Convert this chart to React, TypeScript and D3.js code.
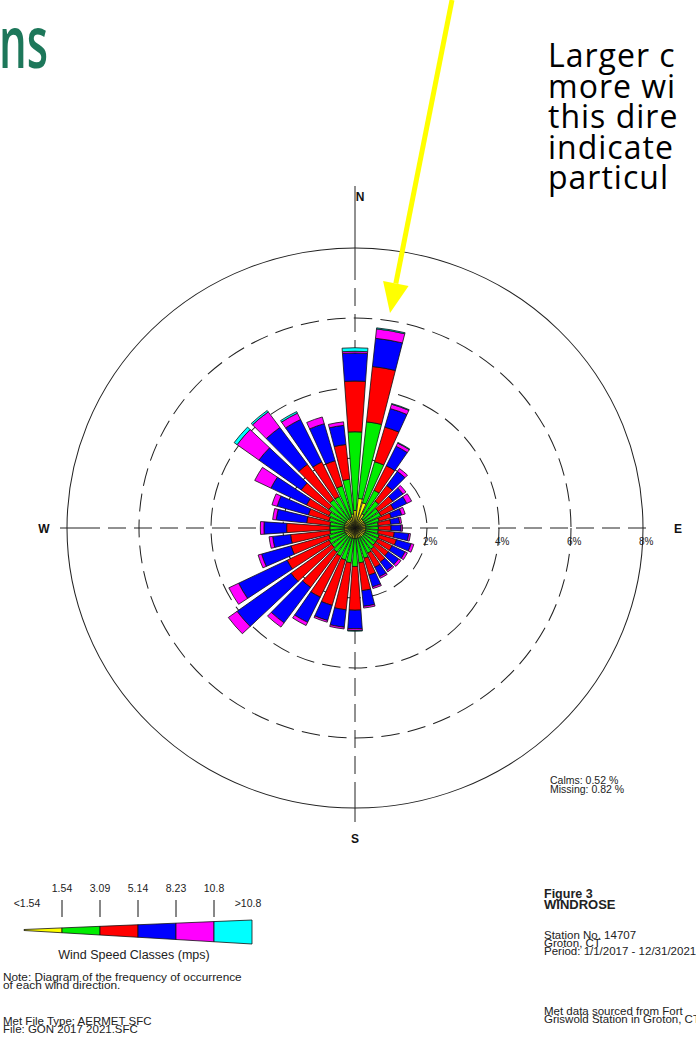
import React from 'react';
import * as d3 from 'd3';

// ---- Data (% frequency per direction, per wind speed class) ----
const directions = d3.range(10, 361, 10);
const speedClasses = ['<1.54', '1.54 - 3.09', '3.09 - 5.14', '5.14 - 8.23', '8.23 - 10.8', '>10.8'];
const classColors = ['#ffff00', '#00ee00', '#ff0000', '#0000ff', '#ff00ff', '#00ffff'];

const yellowVals = [0.85, 0.75, 0.45, 0.32, 0.3, 0.3, 0.3, 0.3, 0.3, 0.3, 0.3, 0.3, 0.3, 0.3, 0.3, 0.3, 0.3, 0.3, 0.3, 0.3, 0.3, 0.3, 0.3, 0.3, 0.3, 0.3, 0.3, 0.3, 0.3, 0.3, 0.3, 0.3, 0.3, 0.32, 0.4, 0.5];
const greenVals = [2.2, 1.22, 0.75, 0.63, 0.5, 0.5, 0.4, 0.35, 0.35, 0.35, 0.4, 0.4, 0.4, 0.45, 0.5, 0.6, 0.7, 0.8, 0.7, 0.65, 0.6, 0.55, 0.5, 0.5, 0.45, 0.4, 0.4, 0.4, 0.45, 0.5, 0.6, 0.7, 0.7, 0.93, 1.0, 2.25];
const redVals = [1.59, 1.03, 0.78, 0.55, 0.5, 0.4, 0.35, 0.35, 0.35, 0.45, 0.5, 0.45, 0.45, 0.45, 0.45, 0.5, 0.8, 1.25, 1.35, 1.35, 1.3, 1.25, 1.4, 1.3, 1.1, 1.1, 1.2, 0.65, 0.6, 0.7, 0.95, 1.25, 1.1, 0.75, 1.0, 1.45];
const blueVals = [0.81, 0.55, 0.62, 0.5, 0.35, 0.4, 0.3, 0.25, 0.28, 0.4, 0.42, 0.4, 0.35, 0.3, 0.3, 0.35, 0.45, 0.53, 0.5, 0.45, 0.8, 1.25, 1.85, 1.5, 0.85, 0.5, 0.63, 0.85, 0.9, 1.1, 1.45, 1.3, 1.35, 1.1, 0.55, 0.8];
const magentaVals = [0.27, 0.13, 0.1, 0.1, 0.1, 0.15, 0.1, 0.05, 0.04, 0.05, 0.08, 0.07, 0.08, 0.05, 0.05, 0.05, 0.05, 0.05, 0.05, 0.05, 0.1, 0.15, 0.3, 0.3, 0.1, 0.1, 0.1, 0.1, 0.15, 0.5, 0.75, 0.55, 0.2, 0.2, 0.1, 0.05];
const cyanVals = [0.03, 0.02, 0.02, 0, 0, 0, 0, 0, 0, 0, 0, 0, 0, 0, 0, 0, 0, 0.02, 0, 0, 0, 0, 0, 0, 0, 0, 0, 0, 0, 0, 0.1, 0.05, 0.05, 0, 0, 0.1];

const ringValues = [2, 4, 6, 8];
const ringLabels = ['2%', '4%', '6%', '8%'];
const legendBreaks = ['1.54', '3.09', '5.14', '8.23', '10.8'];

const classValues = [yellowVals, greenVals, redVals, blueVals, magentaVals, cyanVals];

const W = 696;
const H = 1040;
const cx = 355;
const cy = 528;
const RY = 280;
const RX = 288;

export default function App() {
  const r = d3.scaleLinear().domain([0, 8]).range([0, RY]);
  const halfWidth = (4.0 * Math.PI) / 180;
  const arc = d3.arc<any>();

  const segments: any[] = [];
  directions.forEach((dir, i) => {
    let acc = 0;
    classValues.forEach((vals, k) => {
      const v = vals[i];
      if (v <= 0) return;
      const a = (dir * Math.PI) / 180;
      segments.push({
        key: `${dir}-${k}`,
        d: arc({ innerRadius: r(acc), outerRadius: r(acc + v), startAngle: a - halfWidth, endAngle: a + halfWidth }),
        fill: classColors[k],
      });
      acc += v;
    });
  });

  const sx = RX / RY;

  // legend wedge geometry
  const legX = d3.scaleLinear().domain([0, 6]).range([24, 252]);
  const topY = d3.scaleLinear().domain([24, 252]).range([929.5, 920]);
  const botY = d3.scaleLinear().domain([24, 252]).range([930.5, 944]);

  const arrowTip = [390, 313];
  const arrowStart = [452, 0];
  const ux = arrowTip[0] - arrowStart[0];
  const uy = arrowTip[1] - arrowStart[1];
  const ul = Math.hypot(ux, uy);
  const nx = ux / ul, ny = uy / ul;
  const bx = arrowTip[0] - nx * 30, by = arrowTip[1] - ny * 30;
  const px = -ny, py = nx;
  const headW = 13;

  const sans = 'Liberation Sans, Arial, sans-serif';
  const slideFont = 'Open Sans, Noto Sans, sans-serif';

  return (
    <svg width={W} height={H} style={{ position: 'absolute', left: 0, top: 0, background: '#fff' }} xmlns="http://www.w3.org/2000/svg">
      <rect x={0} y={0} width={W} height={H} fill="#fff" />
      {/* slide title fragment */}
      <text x={48} y={68} textAnchor="end" fontFamily={slideFont} fontSize={72} fontWeight={600} fill="#1d775a" textLength={49} lengthAdjust="spacingAndGlyphs">ns</text>
      {/* slide annotation text */}
      {['Larger c', 'more wi', 'this dire', 'indicate', 'particul'].map((t, i) => (
        <text key={t} x={548} y={67 + i * 30.5} fontFamily={slideFont} fontSize={32} letterSpacing={1} fill="#000">{t}</text>
      ))}

      {/* rose rings */}
      <g transform={`translate(${cx},${cy}) scale(${sx},1)`}>
        {ringValues.map((v, i) => (
          <circle key={v} r={r(v)} fill="none" stroke="#222" strokeWidth={1} strokeDasharray={i < 3 ? '18,8' : undefined} />
        ))}
      </g>
      {/* axes */}
      <line x1={60} x2={82} y1={cy} y2={cy} stroke="#222" strokeWidth={1} />
      <line x1={82} x2={650} y1={cy} y2={cy} stroke="#222" strokeWidth={1} strokeDasharray="18,8" />
      <line x1={cx} x2={cx} y1={186} y2={262} stroke="#222" strokeWidth={1} />
      <line x1={cx} x2={cx} y1={262} y2={795} stroke="#222" strokeWidth={1} strokeDasharray="18,8" />
      <line x1={cx} x2={cx} y1={795} y2={822} stroke="#222" strokeWidth={1} />

      <g transform={`translate(${cx},${cy}) scale(${sx},1)`}>
        {segments.map((s) => (
          <path key={s.key} d={s.d} fill={s.fill} stroke="#111" strokeWidth={0.8} />
        ))}
      </g>

      {ringValues.map((v, i) => (
        <text key={v} x={cx + r(v) * sx - 4} y={545} fontFamily={sans} fontSize={10} fill="#222">{ringLabels[i]}</text>
      ))}

      <text x={cx + 5} y={201} fontFamily={sans} fontSize={12} fontWeight="bold" textAnchor="middle" fill="#111">N</text>
      <text x={cx} y={843} fontFamily={sans} fontSize={12} fontWeight="bold" textAnchor="middle" fill="#111">S</text>
      <text x={44} y={533} fontFamily={sans} fontSize={12} fontWeight="bold" textAnchor="middle" fill="#111">W</text>
      <text x={678} y={533} fontFamily={sans} fontSize={12} fontWeight="bold" textAnchor="middle" fill="#111">E</text>

      <text x={550} y={784} fontFamily={sans} fontSize={10.5} fill="#222">Calms: 0.52 %</text>
      <text x={550} y={793} fontFamily={sans} fontSize={10.5} fill="#222">Missing: 0.82 %</text>

      {/* legend */}
      {classColors.map((c, k) => {
        const x0 = legX(k), x1 = legX(k + 1);
        const pts = [[x0, topY(x0)], [x1, topY(x1)], [x1, botY(x1)], [x0, botY(x0)]];
        return <polygon key={c} points={pts.map((p) => p.join(',')).join(' ')} fill={c} stroke="#111" strokeWidth={0.8} />;
      })}
      {legendBreaks.map((b, i) => (
        <g key={b}>
          <line x1={legX(i + 1)} x2={legX(i + 1)} y1={900} y2={917} stroke="#111" strokeWidth={1} />
          <text x={legX(i + 1)} y={892} fontFamily={sans} fontSize={10.5} textAnchor="middle" fill="#222">{b}</text>
        </g>
      ))}
      <text x={27} y={907} fontFamily={sans} fontSize={10.5} textAnchor="middle" fill="#222">{'<1.54'}</text>
      <text x={248} y={907} fontFamily={sans} fontSize={10.5} textAnchor="middle" fill="#222">{'>10.8'}</text>
      <text x={134} y={959} fontFamily={sans} fontSize={12.5} textAnchor="middle" fill="#222">Wind Speed Classes (mps)</text>
      <text x={3} y={981} fontFamily={sans} fontSize={11.8} fill="#222">Note: Diagram of the frequency of occurrence</text>
      <text x={3} y={989} fontFamily={sans} fontSize={11.8} fill="#222">of each wind direction.</text>
      <text x={3} y={1025} fontFamily={sans} fontSize={11.5} fill="#222">Met File Type: AERMET SFC</text>
      <text x={3} y={1033} fontFamily={sans} fontSize={11.5} fill="#222">File: GON  2017  2021.SFC</text>

      <text x={544} y={898} fontFamily={sans} fontSize={12.5} fontWeight="bold" fill="#222">Figure 3</text>
      <text x={544} y={909} fontFamily={sans} fontSize={13} fontWeight="bold" fill="#222">WINDROSE</text>
      <text x={544} y={939} fontFamily={sans} fontSize={11.5} fill="#222">Station No. 14707</text>
      <text x={544} y={947} fontFamily={sans} fontSize={11.5} fill="#222">Groton, CT</text>
      <text x={544} y={955} fontFamily={sans} fontSize={11.5} fill="#222">Period: 1/1/2017 - 12/31/2021</text>
      <text x={544} y={1015} fontFamily={sans} fontSize={11.5} fill="#222">Met data sourced from Fort</text>
      <text x={544} y={1023} fontFamily={sans} fontSize={11.5} fill="#222">Griswold Station in Groton, CT</text>

      {/* yellow arrow */}
      <line x1={arrowStart[0]} y1={arrowStart[1]} x2={bx} y2={by} stroke="#ffff00" strokeWidth={5} />
      <polygon
        points={`${arrowTip[0]},${arrowTip[1]} ${bx + px * headW},${by + py * headW} ${bx - px * headW},${by - py * headW}`}
        fill="#ffff00"
      />
    </svg>
  );
}
